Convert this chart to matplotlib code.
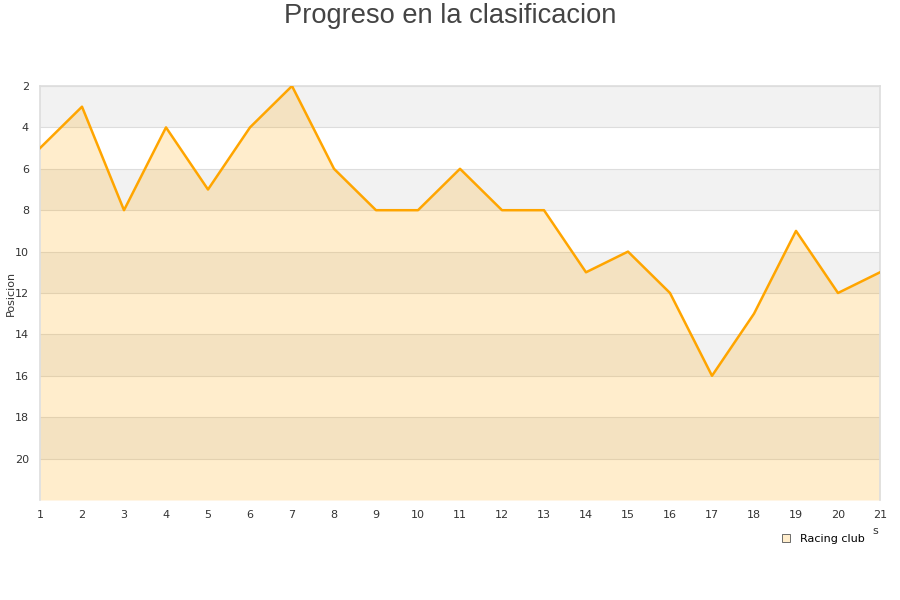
import numpy as np
import matplotlib.pyplot as plt
from matplotlib.lines import Line2D

# data
jornadas = list(range(1, 22))
posicion = [5, 3, 8, 4, 7, 4, 2, 6, 8, 8, 6, 8, 8, 11, 10, 12, 16, 13, 9, 12, 11]
equipo = 'Racing club'
titulo = 'Progreso en la clasificacion'
y_ticks = [2, 4, 6, 8, 10, 12, 14, 16, 18, 20]

fig = plt.figure(figsize=(9, 6), dpi=100)
ax = fig.add_axes([40 / 900, 100 / 600, 840 / 900, 414 / 600])

ymin, ymax = 2, 22

# alternating background bands
for lo in range(2, 22, 4):
    ax.axhspan(lo, lo + 2, color='#f2f2f2', lw=0, zorder=0)
for t in y_ticks:
    ax.axhline(t, color='#dddddd', lw=0.8, zorder=1)

ax.fill_between(jornadas, posicion, ymax, color='#FFA500', alpha=0.2,
                lw=0, zorder=2)
ax.plot(jornadas, posicion, color='#FFA500', lw=1.8, zorder=3)

ax.set_xlim(1, 21)
ax.set_ylim(ymax, ymin)
ax.set_xticks(jornadas)
ax.set_yticks(y_ticks)
ax.tick_params(length=0, labelsize=8, colors='#333333', pad=7)
ax.tick_params(axis='y', pad=8)

ax.spines['bottom'].set_visible(False)
for side in ['top', 'right', 'left']:
    ax.spines[side].set_color('#dddddd')
    ax.spines[side].set_linewidth(1.2)

# y label placed by hand so it stays inside the figure
fig.text(11 / 900, 1 - 293 / 600, 'Posicion', rotation=90, ha='center',
         va='center', fontsize=8, color='#333333')

fig.text(0.5, 1 - 16 / 600, titulo, ha='center', va='center', fontsize=19.6,
         color='#444444', family='Liberation Sans')
fig.text(875 / 900, 1 - 531 / 600, 's', ha='center', va='center',
         fontsize=8, color='#333333')

handle = Line2D([], [], marker='s', ls='none', markersize=6,
                markerfacecolor='#FFEDCC', markeredgecolor='#555555',
                markeredgewidth=0.6)
fig.legend([handle], [equipo], loc='center', bbox_to_anchor=(820 / 900, 1 - 539 / 600),
           frameon=False, fontsize=8, handletextpad=0.3)

fig.savefig('out.png', dpi=100)
